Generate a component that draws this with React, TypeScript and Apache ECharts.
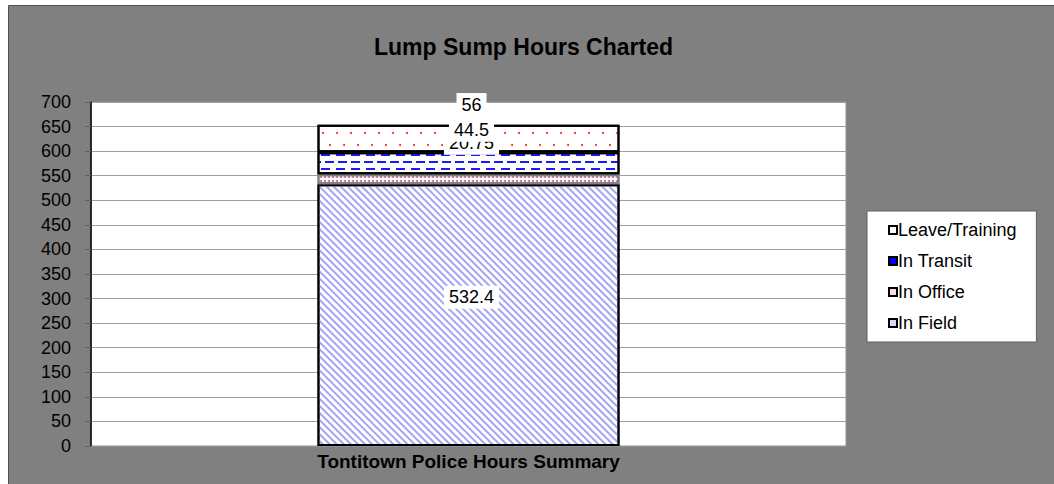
import React, { useEffect, useRef } from "react";
import * as echarts from "echarts";

const categories = ["Tontitown Police Hours Summary"];
const inField = [532.4];
const inOffice = [20.75];
const inTransit = [44.5];
const leaveTraining = [56];
const legendOrder = ["Leave/Training", "In Transit", "In Office", "In Field"];

const FONT = "'Liberation Sans', Arial, sans-serif";

const decalField = {
  symbol: "rect",
  symbolSize: 1,
  color: "#a4a4f5",
  backgroundColor: "#ffffff",
  dashArrayX: [1, 0],
  dashArrayY: [1.3, 2.2],
  rotation: Math.PI / 4,
};
const decalOffice = {
  symbol: "circle",
  symbolSize: 1,
  color: "#c0608a",
  backgroundColor: "#ffffff",
  dashArrayX: [1.4, 1.6],
  dashArrayY: [1.4, 1.6],
  rotation: 0,
};
const decalTransit = {
  symbol: "rect",
  symbolSize: 1,
  color: "#1a1aff",
  backgroundColor: "#ffffff",
  dashArrayX: [[9, 4], [0, 6, 9, 0]],
  dashArrayY: [2, 4.7],
  rotation: 0,
};
const decalLeave = {
  symbol: "circle",
  symbolSize: 1,
  color: "#ff2020",
  backgroundColor: "#ffffff",
  dashArrayX: [[2, 12], [0, 7, 2, 5]],
  dashArrayY: [2, 10],
  rotation: 0,
};

function labelStyle(dy: number) {
  return {
    show: true,
    position: "inside",
    offset: [3, dy],
    color: "#000",
    fontSize: 18,
    fontFamily: FONT,
    backgroundColor: "#ffffff",
    padding: [3, 5, 2, 5],
  };
}

export default function App() {
  const ref = useRef<HTMLDivElement>(null);
  useEffect(() => {
    if (!ref.current) return;
    const chart = echarts.init(ref.current, undefined, { renderer: "svg" });
    chart.setOption({
      animation: false,
      backgroundColor: "#ffffff",
      graphic: [
        {
          type: "rect",
          z: -10,
          silent: true,
          shape: { x: 8.5, y: 5.5, width: 1060, height: 500 },
          style: { fill: "#808080", stroke: "#505050", lineWidth: 1 },
        },
      ],
      title: {
        text: "Lump Sump Hours Charted",
        left: 369,
        top: 30,
        textStyle: { fontSize: 23, fontWeight: "bold", color: "#000", fontFamily: FONT },
      },
      legend: {
        orient: "vertical",
        left: 867,
        top: 211,
        width: 174,
        height: 128,
        backgroundColor: "#ffffff",
        borderColor: "#606060",
        borderWidth: 1,
        padding: [10, 20, 10, 21],
        itemGap: 13,
        itemWidth: 8,
        itemHeight: 8,
        icon: "rect",
        textStyle: { fontSize: 18, color: "#000", fontFamily: FONT, padding: [0, 0, 0, -4] },
        data: [
          { name: legendOrder[0], itemStyle: { color: "#fff", borderColor: "#000", borderWidth: 2, decal: "none" } },
          { name: legendOrder[1], itemStyle: { color: "#0000ff", borderColor: "#000", borderWidth: 2, decal: "none" } },
          { name: legendOrder[2], itemStyle: { color: "#f3dde6", borderColor: "#000", borderWidth: 2, decal: "none" } },
          { name: legendOrder[3], itemStyle: { color: "#d8d8fa", borderColor: "#000", borderWidth: 2, decal: "none" } },
        ],
      },
      grid: {
        left: 91,
        top: 102,
        right: 208,
        bottom: 38,
        show: true,
        backgroundColor: "#ffffff",
        borderColor: "#909090",
        borderWidth: 1,
      },
      xAxis: {
        type: "category",
        data: categories,
        axisLine: { show: true, lineStyle: { color: "#909090" } },
        axisTick: { show: false },
        axisLabel: {
          fontSize: 19,
          fontWeight: "bold",
          color: "#000",
          fontFamily: FONT,
          margin: 6,
        },
      },
      yAxis: {
        type: "value",
        min: 0,
        max: 700,
        interval: 50,
        axisLine: { show: true, lineStyle: { color: "#000", width: 1.5 } },
        axisTick: { show: true, length: 6, lineStyle: { color: "#606060" } },
        axisLabel: { fontSize: 18, color: "#000", fontFamily: FONT, margin: 20 },
        splitLine: { show: true, lineStyle: { color: "#a0a0a0", width: 1 } },
      },
      series: [
        {
          name: "In Field",
          type: "bar",
          stack: "total",
          data: inField,
          barWidth: "40%",
          itemStyle: { color: "#ffffff", borderColor: "#000", borderWidth: 2, decal: decalField },
          label: labelStyle(-18),
        },
        {
          name: "In Office",
          type: "bar",
          stack: "total",
          data: inOffice,
          itemStyle: { color: "#ffffff", borderColor: "#808080", borderWidth: 2, decal: decalOffice },
          label: labelStyle(-36),
        },
        {
          name: "In Transit",
          type: "bar",
          stack: "total",
          data: inTransit,
          itemStyle: { color: "#ffffff", borderColor: "#000", borderWidth: 2, decal: decalTransit },
          label: labelStyle(-33),
        },
        {
          name: "Leave/Training",
          type: "bar",
          stack: "total",
          data: leaveTraining,
          itemStyle: { color: "#ffffff", borderColor: "#000", borderWidth: 2, decal: decalLeave },
          label: labelStyle(-34),
        },
      ],
    });
    return () => chart.dispose();
  }, []);
  return (
    <div
      ref={ref}
      style={{ position: "absolute", left: 0, top: 0, width: 1054, height: 484 }}
    />
  );
}
